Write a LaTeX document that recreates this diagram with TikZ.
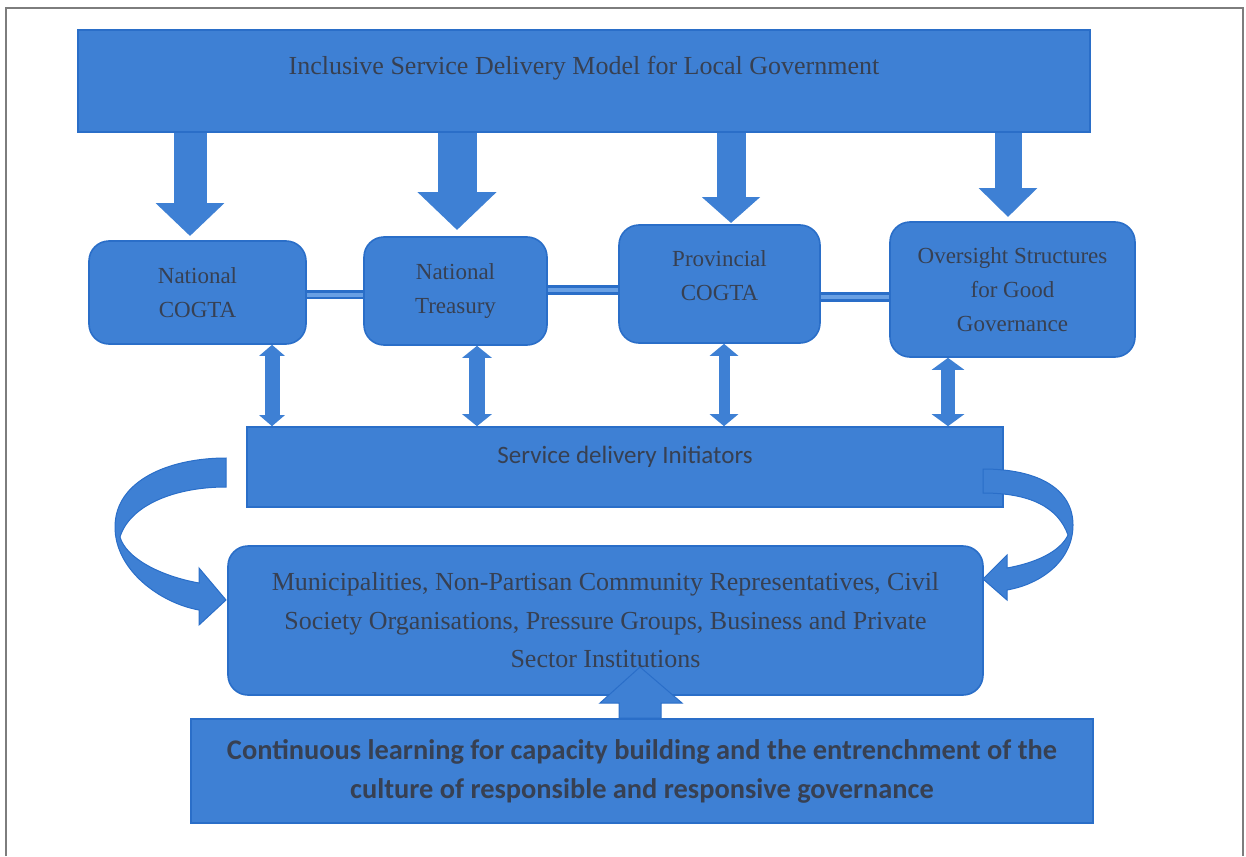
\documentclass[tikz,border=0pt]{standalone}
\usepackage{fontspec}
\setmainfont{Liberation Serif}
\newfontfamily\calibri{Carlito}
\usetikzlibrary{arrows.meta}

\definecolor{boxblue}{RGB}{62,128,212}
\definecolor{boxedge}{RGB}{42,110,200}
\definecolor{barlight}{RGB}{105,160,228}
\definecolor{inkgrey}{RGB}{55,64,82}
\definecolor{framegrey}{RGB}{125,125,125}

\tikzset{
  slab/.style={rectangle, fill=boxblue, draw=boxedge, line width=0.8pt, text=inkgrey, inner sep=0pt},
  unitbox/.style={slab, rounded corners=10pt, align=center, font=\fontsize{11.5}{17}\selectfont},
  droparrow/.style n args={3}{draw=boxblue, line width=#1, -{Triangle[width=#2,length=#3]}},
  twoway/.style n args={3}{draw=boxblue, line width=#1, {Triangle[width=#2,length=#3]}-{Triangle[width=#2,length=#3]}},
  linkbar/.style={draw=boxedge, line width=1.3pt, double=barlight, double distance=2pt},
  bentarrow/.style={fill=boxblue, draw=boxedge, line width=0.5pt}
}

\begin{document}
\begin{tikzpicture}[x=0.5pt, y=-0.5pt]
    \useasboundingbox (0,0) rectangle (1246,856);
    % scanned page frame
    \draw[framegrey, line width=0.8pt] (6,856) -- (6,8) -- (1243,8) -- (1243,856);

    \node[slab, minimum width=506pt, minimum height=51pt, text depth=16pt, font=\fontsize{13}{16}\selectfont] (model) at (584,81) {Inclusive Service Delivery Model for Local Government};

    \node[unitbox, minimum width=108.5pt, minimum height=51.5pt] (ncogta) at (197.5,292.5) {National\\COGTA};
    \node[unitbox, minimum width=91.5pt, minimum height=54pt] (treasury) at (455.5,291) {National\\Treasury};
    \node[unitbox, minimum width=100.5pt, minimum height=59pt, text depth=8pt] (pcogta) at (719.5,284) {Provincial\\COGTA};
    \node[unitbox, minimum width=122.5pt, minimum height=67.5pt] (oversight) at (1012.5,289.5) {Oversight Structures\\for Good\\Governance};

    \node[slab, minimum width=378pt, minimum height=40pt, text depth=12pt, font=\calibri\fontsize{12.5}{15}\selectfont] (initiators) at (625,467) {Service delivery Initiators};

    \node[unitbox, minimum width=377.5pt, minimum height=74.5pt, font=\fontsize{13}{19.25}\selectfont] (partners) at (605.5,620.5) {Municipalities, Non-Partisan Community Representatives, Civil\\Society Organisations, Pressure Groups, Business and Private\\Sector Institutions};

    \node[slab, align=center, minimum width=451pt, minimum height=52pt, font=\calibri\bfseries\fontsize{14.2}{19.5}\selectfont] (learning) at (642,771) {Continuous learning for capacity building and the entrenchment of the\\culture of responsible and responsive governance};

    % links between the bodies
    \draw[linkbar] (ncogta.east |- 0,294.5) -- (treasury.west |- 0,294.5);
    \draw[linkbar] (treasury.east |- 0,290) -- (pcogta.west |- 0,290);
    \draw[linkbar] (pcogta.east |- 0,297) -- (oversight.west |- 0,297);

    % block arrows from the model
    \coordinate (tip1) at (190,236);
    \coordinate (tip2) at (457,230);
    \coordinate (tip3) at (731,223);
    \coordinate (tip4) at (1008,217);
    \draw[droparrow={16.5pt}{33.5pt}{16.5pt}] (tip1 |- model.south) -- (tip1);
    \draw[droparrow={19.5pt}{38.5pt}{19pt}] (tip2 |- model.south) -- (tip2);
    \draw[droparrow={14.5pt}{28.5pt}{13pt}] (tip3 |- model.south) -- (tip3);
    \draw[droparrow={13.5pt}{28.5pt}{14.5pt}] (tip4 |- model.south) -- (tip4);

    % two way arrows to the initiators
    \coordinate (v1) at (272,0);
    \coordinate (v2) at (477,0);
    \coordinate (v3) at (724,0);
    \coordinate (v4) at (948,0);
    \draw[twoway={7.5pt}{12.5pt}{5.5pt}] (v1 |- ncogta.south) -- (v1 |- initiators.north);
    \draw[twoway={8pt}{14.5pt}{6pt}] (v2 |- treasury.south) -- (v2 |- initiators.north);
    \draw[twoway={5.5pt}{14pt}{6pt}] (v3 |- pcogta.south) -- (v3 |- initiators.north);
    \draw[twoway={7pt}{16pt}{6pt}] (v4 |- oversight.south) -- (v4 |- initiators.north);

    % curved arrows down to the partners
    \path[bentarrow] (226,458) .. controls (170,458) and (115,480) .. (115,527) .. controls (115,570) and (160,603) .. (199,610) -- (199,625) -- (226,600) -- (199,568) -- (199,583) .. controls (160,576) and (126,558) .. (120,537) .. controls (130,505) and (175,487) .. (226,487) -- cycle;
    \path[bentarrow] (983,469) .. controls (1040,469) and (1073,490) .. (1073,525) .. controls (1073,560) and (1042,584) .. (1007,590) -- (1007,600) -- (983,579) -- (1007,555) -- (1007,568) .. controls (1035,563) and (1060,552) .. (1068,535) .. controls (1058,507) and (1030,493) .. (983,493) -- cycle;

    % learning feeds the partners
    \coordinate (uptip) at (640,667);
    \path[bentarrow] (uptip) -- ++(42,36) -- ++(-21,0) -- (learning.north -| 661,0) -- (learning.north -| 619,0) -- (619,703) -- ++(-19,0) -- cycle;
\end{tikzpicture}
\end{document}
